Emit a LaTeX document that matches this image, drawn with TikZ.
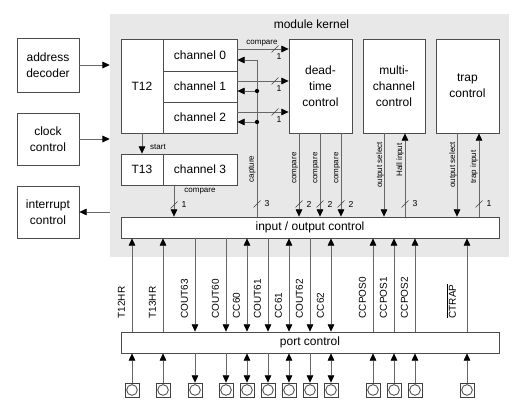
\documentclass[tikz,border=0pt]{standalone}
\usepackage{fontspec}
\setmainfont{Liberation Sans}
\usetikzlibrary{arrows.meta}

\tikzset{
  >={Triangle[length=5.5pt,width=5pt,color=black]},
  block/.style={draw=black!70, line width=0.6pt, fill=white, inner sep=0pt, align=center, font=\fontsize{9}{12}\selectfont},
  sig/.style={draw=black!60, line width=0.6pt},
  tiny/.style={inner sep=0pt, font=\fontsize{6}{7}\selectfont},
  vtxt/.style={tiny, rotate=90},
  num/.style={inner sep=0pt, font=\fontsize{6.5}{7}\selectfont},
  sigtxt/.style={rotate=90, anchor=west, inner sep=0pt, font=\fontsize{7.5}{8}\selectfont},
  pin/.style={draw=black!75, line width=0.6pt, fill=white, minimum size=10.5pt, inner sep=0pt,
    path picture={\draw[black!75, line width=0.6pt] (path picture bounding box.center) circle (4pt);}},
  pics/busv/.style={code={\draw[black!75, line width=0.5pt] (-3.5,3.5) -- (3.5,-3.5); \node[num] at (10,0) {#1};}},
  pics/bush/.style={code={\draw[black!75, line width=0.5pt] (-3.5,3.5) -- (3.5,-3.5); \node[num] at (4,8) {#1};}}
}

\begin{document}
\begin{tikzpicture}[x=0.75pt, y=-0.75pt]
  \useasboundingbox (0,0) rectangle (526,417);
  % Nodes
  \node[fill=gray!18, minimum width=299.25pt, minimum height=182.25pt, inner sep=0pt] (kernel) at (309.5,135.5) {};
  \node[font=\fontsize{9}{10}\selectfont] (kname) at (311.5,24) {module kernel};
  \node[block, minimum width=46.5pt, minimum height=40.5pt] (addr) at (48,65) {address\\decoder};
  \node[block, minimum width=46.5pt, minimum height=39pt] (clk) at (48,139) {clock\\control};
  \node[block, minimum width=46.5pt, minimum height=39pt] (irq) at (48,212) {interrupt\\control};
  \node[block, minimum width=31.5pt, minimum height=70.5pt] (t12) at (142,86) {T12};
  \node[block, minimum width=55.5pt, minimum height=24pt] (ch0) at (200,55) {channel 0};
  \node[block, minimum width=55.5pt, minimum height=23.25pt] (ch1) at (200,86.5) {channel 1};
  \node[block, minimum width=55.5pt, minimum height=23.25pt] (ch2) at (200,117.5) {channel 2};
  \node[block, minimum width=31.5pt, minimum height=23.25pt] (t13) at (142,169.5) {T13};
  \node[block, minimum width=55.5pt, minimum height=23.25pt] (ch3) at (200,169.5) {channel 3};
  \node[block, minimum width=47.25pt, minimum height=70.5pt] (dtc) at (320.5,86) {dead-\\time\\control};
  \node[block, minimum width=46.5pt, minimum height=70.5pt] (mcc) at (394,86) {multi-\\channel\\control};
  \node[block, minimum width=47.25pt, minimum height=70.5pt] (trap) at (467.5,86) {trap\\control};
  \node[block, minimum width=283.5pt, minimum height=15.75pt] (io) at (310,227.5) {input / output control};
  \node[block, minimum width=283.5pt, minimum height=15.75pt] (port) at (310,342.5) {port control};

  % Edges
  \draw[sig,->] (addr.east) -- (addr.east -| kernel.west);
  \draw[sig,->] (clk.east) -- (clk.east -| kernel.west);
  \draw[sig,->] (kernel.west |- irq.east) -- (irq.east);

  % compare to dead-time
  \coordinate (r0) at (275,49);
  \coordinate (r1) at (275,81);
  \coordinate (r2) at (275,112);
  \draw[sig,->] (ch0.east |- r0) -- (dtc.west |- r0);
  \draw[sig,->] (ch1.east |- r1) -- (dtc.west |- r1);
  \draw[sig,->] (ch2.east |- r2) -- (dtc.west |- r2);
  \node[tiny] at (262,43) {compare};
  \path (r0) pic {bush=1};
  \path (r1) pic {bush=1};
  \path (r2) pic {bush=1};

  % capture
  \coordinate (cap) at (257,60);
  \coordinate (k1) at (257,91);
  \coordinate (k2) at (257,122);
  \draw[sig] (cap) -- (cap |- io.north);
  \draw[sig,->] (cap) -- (cap -| ch0.east);
  \draw[sig,->] (k1) -- (k1 -| ch1.east);
  \draw[sig,->] (k2) -- (k2 -| ch2.east);
  \fill (k1) circle (1.6pt);
  \fill (k2) circle (1.6pt);
  \node[vtxt] at (252,169) {capture};
  \path (257,204) pic {busv=3};

  % T13
  \draw[sig,->] (t12.south) -- (t13.north);
  \node[tiny] at (158,147) {start};
  \coordinate (c3) at (174,205);
  \draw[sig,->] (c3 |- ch3.south) -- (c3 |- io.north);
  \node[tiny] at (200,191) {compare};
  \path (c3) pic {busv=1};

  % dead-time outputs
  \foreach \x in {299,320,341} {
    \coordinate (d\x) at (\x,204);
    \draw[sig,->] (d\x |- dtc.south) -- (d\x |- io.north);
    \node[vtxt] at (\x-4,168) {compare};
    \path (d\x) pic {busv=2};
  }

  % multi-channel and trap
  \coordinate (ms) at (384,204);
  \coordinate (hi) at (405,204);
  \draw[sig,->] (ms |- mcc.south) -- (ms |- io.north);
  \draw[sig,->] (hi |- io.north) -- (hi |- mcc.south);
  \node[vtxt] at (380,165) {output select};
  \node[vtxt] at (400,160) {Hall input};
  \path (hi) pic {busv=3};
  \coordinate (ts) at (457,204);
  \coordinate (ti) at (479,204);
  \draw[sig,->] (ts |- trap.south) -- (ts |- io.north);
  \draw[sig,->] (ti |- io.north) -- (ti |- trap.south);
  \node[vtxt] at (453,165) {output select};
  \node[vtxt] at (474,167) {trap input};
  \path (ti) pic {busv=1};

  % port pins
  \foreach \px/\pn/\dir/\dx/\txt in {132/p1/<-/8/T12HR, 163/p2/<-/8/T13HR, 195/p3/->/8/COUT63,
      226/p4/->/8/COUT60, 247/p5/<->/8/CC60, 268/p6/->/8/COUT61, 289/p7/<->/8/CC61,
      310/p8/->/8/COUT62, 331/p9/<->/8/CC62, 373/p10/<-/8/CCPOS0, 394/p11/<-/8/CCPOS1,
      415/p12/<-/8/CCPOS2, 467/p13/<-/12/{$\overline{\mbox{CTRAP}}$}} {
    \node[pin] (\pn) at (\px,390) {};
    \draw[sig,\dir] (\pn |- io.south) -- (\pn |- port.north);
    \draw[sig,\dir] (\pn |- port.south) -- (\pn.north);
    \node[xshift=-\dx pt, yshift=9.75pt, sigtxt] at (\pn |- port.north) {\txt};
  }
\end{tikzpicture}
\end{document}
